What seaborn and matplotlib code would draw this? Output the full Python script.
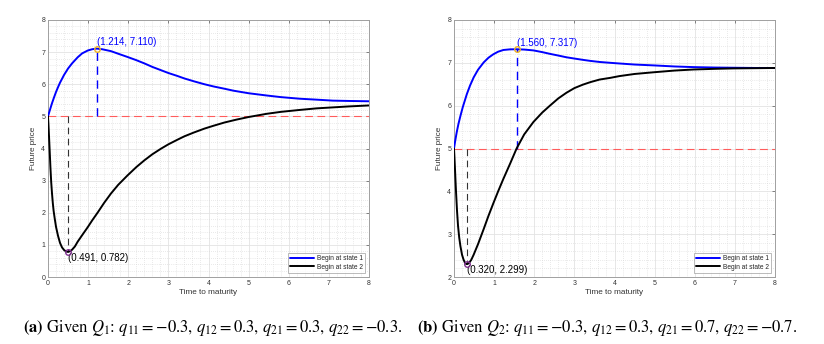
import numpy as np
import pandas as pd
import matplotlib
matplotlib.use("Agg")
import matplotlib.pyplot as plt
import seaborn as sns
from matplotlib.ticker import MultipleLocator

# Panel (a): Q1
t_a_state1 = [0, 0.05, 0.1, 0.15, 0.2, 0.25, 0.3, 0.4, 0.5, 0.6, 0.74, 0.85, 0.99, 1.1,
              1.214, 1.35, 1.57, 1.75, 1.98, 2.2, 2.4, 2.6, 2.81, 3.0, 3.22, 3.4, 3.64,
              3.9, 4.13, 4.4, 4.62, 5.0, 5.45, 5.8, 6.27, 6.7, 7.1, 7.5, 8.0]
f_a_state1 = [5.0, 5.21, 5.41, 5.59, 5.76, 5.91, 6.05, 6.29, 6.49, 6.65, 6.84, 6.96, 7.05, 7.09,
              7.11, 7.09, 7.03, 6.95, 6.85, 6.75, 6.65, 6.54, 6.44, 6.35, 6.26, 6.18, 6.09,
              6.00, 5.93, 5.86, 5.80, 5.72, 5.65, 5.60, 5.55, 5.52, 5.49, 5.48, 5.47]
t_a_state2 = [0, 0.01, 0.02, 0.03, 0.04, 0.06, 0.08, 0.1, 0.12, 0.14, 0.165, 0.2, 0.25,
              0.3, 0.35, 0.4, 0.45, 0.491, 0.55, 0.6, 0.67, 0.74, 0.85, 0.99, 1.1, 1.24,
              1.4, 1.57, 1.75, 1.98, 2.2, 2.4, 2.6, 2.81, 3.0, 3.22, 3.4, 3.64, 3.9, 4.13,
              4.4, 4.7, 5.0, 5.45, 5.8, 6.27, 6.7, 7.1, 7.5, 8.0]
f_a_state2 = [5.0, 4.78, 4.52, 4.25, 3.98, 3.42, 2.95, 2.6, 2.3, 2.06, 1.84, 1.56, 1.28,
              1.06, 0.92, 0.84, 0.795, 0.782, 0.80, 0.85, 0.95, 1.10, 1.30, 1.55, 1.76, 2.01,
              2.31, 2.6, 2.87, 3.16, 3.42, 3.63, 3.82, 3.99, 4.13, 4.27, 4.38, 4.50, 4.62, 4.71,
              4.81, 4.90, 4.98, 5.08, 5.14, 5.20, 5.25, 5.28, 5.31, 5.34]
peak_a = (1.214, 7.110)
trough_a = (0.491, 0.782)

# Panel (b): Q2
t_b_state1 = [0, 0.03, 0.07, 0.11, 0.16, 0.22, 0.32, 0.4, 0.49, 0.6, 0.74, 0.86, 0.98, 1.1,
              1.23, 1.4, 1.56, 1.75, 1.98, 2.2, 2.39, 2.6, 2.8, 3.0, 3.21, 3.4, 3.63, 3.9,
              4.12, 4.5, 4.98, 5.5, 5.98, 6.5, 6.97, 7.5, 8.0]
f_b_state1 = [5.0, 5.18, 5.39, 5.57, 5.76, 5.97, 6.27, 6.47, 6.66, 6.84, 7.01, 7.12, 7.20, 7.26,
              7.30, 7.315, 7.317, 7.31, 7.29, 7.25, 7.21, 7.17, 7.13, 7.10, 7.07, 7.045, 7.02, 7.0,
              6.985, 6.96, 6.94, 6.915, 6.90, 6.89, 6.885, 6.88, 6.88]
t_b_state2 = [0, 0.01, 0.02, 0.035, 0.05, 0.075, 0.1, 0.13, 0.16, 0.2, 0.24, 0.28, 0.32,
              0.37, 0.43, 0.49, 0.6, 0.74, 0.86, 0.98, 1.1, 1.23, 1.4, 1.56, 1.75, 1.98,
              2.2, 2.39, 2.6, 2.8, 3.0, 3.21, 3.4, 3.63, 3.9, 4.12, 4.5, 4.98, 5.5, 5.98,
              6.5, 6.97, 7.5, 8.0]
f_b_state2 = [5.0, 4.82, 4.62, 4.3, 4.0, 3.55, 3.2, 2.92, 2.72, 2.52, 2.40, 2.32, 2.299,
              2.32, 2.40, 2.52, 2.77, 3.12, 3.43, 3.72, 4.0, 4.29, 4.65, 5.0, 5.33, 5.62,
              5.84, 6.0, 6.17, 6.30, 6.41, 6.49, 6.55, 6.61, 6.65, 6.69, 6.74, 6.78, 6.82, 6.845,
              6.86, 6.87, 6.875, 6.88]
peak_b = (1.560, 7.317)
trough_b = (0.320, 2.299)

captions = [
    r"$\mathbf{(a)}$ Given $Q_1$: $q_{11} = -0.3$, $q_{12} = 0.3$, $q_{21} = 0.3$, $q_{22} = -0.3$.",
    r"$\mathbf{(b)}$ Given $Q_2$: $q_{11} = -0.3$, $q_{12} = 0.3$, $q_{21} = 0.7$, $q_{22} = -0.7$.",
]

sns.set_theme(style="white")
plt.rcParams['font.family'] = ['Liberation Sans', 'DejaVu Sans']
plt.rcParams['mathtext.fontset'] = 'stix'


def draw_panel(ax, t1, f1, t2, f2, peak, trough, ylim):
    base = 5.0
    # Reference lines
    ax.axhline(base, color='#ff5c5c', lw=0.8, ls=(0, (7, 4)), zorder=2)
    ax.plot([peak[0], peak[0]], [base, peak[1]], color='#0000ff', lw=1.0,
            ls=(0, (6, 4)), zorder=2)
    ax.plot([trough[0], trough[0]], [base, trough[1]], color='#333333', lw=0.8,
            ls=(0, (6, 4)), zorder=2)

    # Curves
    sns.lineplot(x=t1, y=f1, ax=ax, color='#0000ff', lw=1.4, label='Begin at state 1', zorder=3)
    sns.lineplot(x=t2, y=f2, ax=ax, color='#000000', lw=1.4, label='Begin at state 2', zorder=3)

    # Extremum markers and labels
    ax.plot(*peak, 'o', mfc='none', mec='#EDB120', ms=4, mew=1, zorder=4)
    ax.plot(*trough, 'o', mfc='none', mec='#7E2F8E', ms=4, mew=1, zorder=4)
    ax.annotate(f"({peak[0]:.3f}, {peak[1]:.3f})", peak, ha='left', va='bottom',
                fontsize=7, color='#0000ff', xytext=(0, 1), textcoords='offset points')
    ax.annotate(f"({trough[0]:.3f}, {trough[1]:.3f})", trough, ha='left', va='top',
                fontsize=7, color='#000000', xytext=(0, -0.5), textcoords='offset points')

    # Axes styling (MATLAB-like)
    ax.set_xlim(0, 8)
    ax.set_ylim(*ylim)
    ax.xaxis.set_major_locator(MultipleLocator(1))
    ax.yaxis.set_major_locator(MultipleLocator(1))
    ax.xaxis.set_minor_locator(MultipleLocator(0.2))
    ax.yaxis.set_minor_locator(MultipleLocator(0.2))
    ax.grid(which='major', color='#e3e3e3', lw=0.6)
    ax.grid(which='minor', color='#d5d5d5', lw=0.5, ls=(0, (1, 2)))
    ax.set_axisbelow(True)
    ax.tick_params(which='major', direction='in', length=2.5, width=0.5,
                   colors='#555555', labelsize=5, labelcolor='#333333',
                   top=True, right=True, pad=2)
    ax.tick_params(which='minor', length=0)
    for s in ax.spines.values():
        s.set_color('#a0a0a0')
        s.set_linewidth(0.7)
    ax.set_xlabel('Time to maturity', fontsize=5.9, color='#333333', labelpad=1.5)
    ax.set_ylabel('Future price', fontsize=5.9, color='#333333', labelpad=3)

    leg = ax.legend(loc='lower right', fontsize=4.8, frameon=True, fancybox=False,
                    edgecolor='#888888', handlelength=3.6, handletextpad=0.4,
                    borderpad=0.35, labelspacing=0.25, borderaxespad=0.6)
    leg.get_frame().set_linewidth(0.5)


fig = plt.figure(figsize=(8.24, 3.44), dpi=100)
ax_a = fig.add_axes([48 / 824, 1 - 277 / 344, 321 / 824, 257 / 344])
ax_b = fig.add_axes([454 / 824, 1 - 277 / 344, 321 / 824, 257 / 344])

draw_panel(ax_a, t_a_state1, f_a_state1, t_a_state2, f_a_state2, peak_a, trough_a, (0, 8))
draw_panel(ax_b, t_b_state1, f_b_state1, t_b_state2, f_b_state2, peak_b, trough_b, (2, 8))

for xc, cap in zip([213 / 824, 607 / 824], captions):
    fig.text(xc, 1 - 328 / 344, cap, ha='center', va='center', fontsize=12,
             family='STIXGeneral', color='black')

fig.savefig('out.png', dpi=100)
